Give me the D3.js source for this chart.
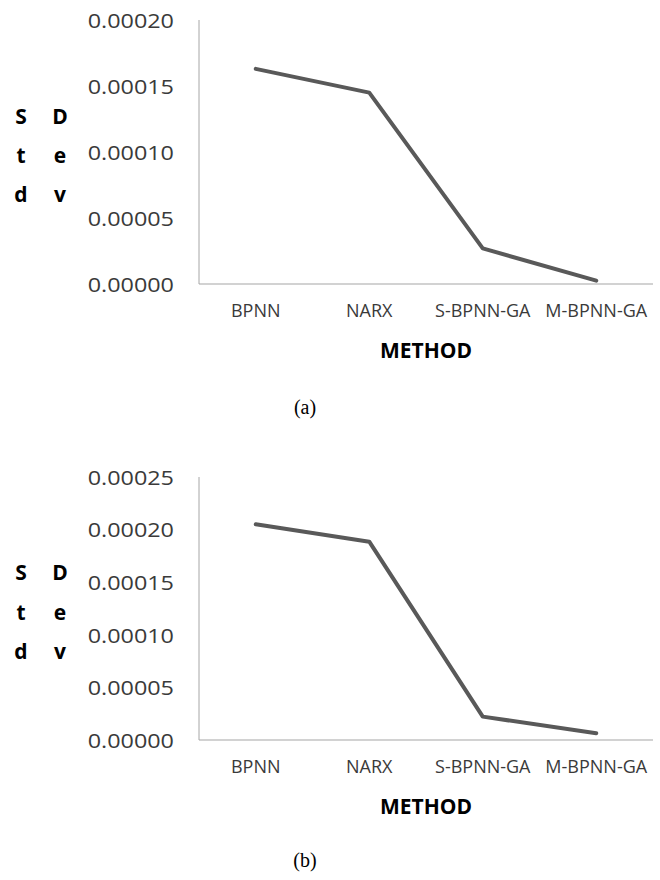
<!DOCTYPE html>
<html>
<head>
<meta charset="utf-8">
<script src="https://cdn.jsdelivr.net/npm/d3@7"></script>
<style>
  html, body { margin: 0; padding: 0; background: #ffffff; }
  svg { display: block; }
</style>
</head>
<body>
<svg id="chart" width="660" height="880"></svg>
<script>
// ---- Data ----
const categories = ["BPNN", "NARX", "S-BPNN-GA", "M-BPNN-GA"];
const valuesA = [0.000163, 0.000145, 0.000027, 0.0000025];
const valuesB = [0.000205, 0.0001885, 0.0000222, 0.0000064];
const ticksA = [0, 0.00005, 0.0001, 0.00015, 0.0002];
const ticksB = [0, 0.00005, 0.0001, 0.00015, 0.0002, 0.00025];
const yTitleCol1 = ["S", "t", "d"];
const yTitleCol2 = ["D", "e", "v"];
const xTitle = "METHOD";
const captions = ["(a)", "(b)"];

const svg = d3.select("#chart");

function drawPanel(opts) {
  const { values, ticks, top, bottom, caption, rowY } = opts;
  const left = 199, right = 653;
  const x = d3.scaleBand().domain(categories).range([left, right]);
  const y = d3.scaleLinear().domain([0, d3.max(ticks)]).range([bottom, top]);
  const g = svg.append("g");

  // y axis line
  g.append("line")
    .attr("x1", left).attr("x2", left)
    .attr("y1", top).attr("y2", bottom)
    .attr("stroke", "#a6a6a6").attr("stroke-width", 1);
  // x axis line
  g.append("line")
    .attr("x1", left).attr("x2", right)
    .attr("y1", bottom).attr("y2", bottom)
    .attr("stroke", "#a6a6a6").attr("stroke-width", 1.2);

  // y tick labels
  const yAxis = d3.axisLeft(y).tickValues(ticks).tickFormat(d3.format(".5f")).tickSize(0).tickPadding(0);
  const ya = g.append("g").attr("transform", `translate(${left - 25},0)`).call(yAxis);
  ya.select(".domain").remove();
  ya.selectAll("text")
    .attr("x", 0)
    .attr("dy", "0.36em")
    .attr("fill", "#3a3a3a")
    .style("font-family", "'Open Sans', sans-serif")
    .style("font-size", "20px")
    .attr("transform", "scale(1.17,1)");

  // x tick labels
  const xAxis = d3.axisBottom(x).tickSize(0).tickPadding(0);
  const xa = g.append("g").attr("transform", `translate(0,${bottom + 27})`).call(xAxis);
  xa.select(".domain").remove();
  xa.selectAll(".tick text")
    .attr("y", 0)
    .attr("dy", "0.36em")
    .attr("fill", "#3a3a3a")
    .attr("text-anchor", "middle")
    .style("font-family", "'Open Sans', sans-serif")
    .style("font-size", "18px");

  // line
  const line = d3.line()
    .x((d, i) => x(categories[i]) + x.bandwidth() / 2)
    .y(d => y(d));
  g.append("path")
    .datum(values)
    .attr("d", line)
    .attr("fill", "none")
    .attr("stroke", "#595959")
    .attr("stroke-width", 4)
    .attr("stroke-linecap", "round")
    .attr("stroke-linejoin", "round");

  // x title
  g.append("text")
    .attr("x", (left + right) / 2)
    .attr("y", bottom + 74)
    .attr("text-anchor", "middle")
    .attr("fill", "#000")
    .style("font-family", "'Open Sans', sans-serif")
    .style("font-weight", "bold")
    .style("font-size", "21px")
    .text(xTitle);

  // y title (wrapped "Std Dev")
  [[yTitleCol1, 21], [yTitleCol2, 60]].forEach(([col, cx]) => {
    col.forEach((c, i) => {
      g.append("text")
        .attr("x", cx).attr("y", rowY[i])
        .attr("text-anchor", "middle")
        .attr("fill", "#000")
        .style("font-family", "'Open Sans', sans-serif")
        .style("font-weight", "bold")
        .style("font-size", "21px")
        .text(c);
    });
  });

  // caption
  svg.append("text")
    .attr("x", 305)
    .attr("y", opts.captionY)
    .attr("text-anchor", "middle")
    .attr("fill", "#000")
    .style("font-family", "'Liberation Serif', 'Times New Roman', serif")
    .style("font-size", "20px")
    .text(caption);
}

drawPanel({ values: valuesA, ticks: ticksA, top: 20, bottom: 284, caption: captions[0], rowY: [124, 163, 202], captionY: 414 });
drawPanel({ values: valuesB, ticks: ticksB, top: 477, bottom: 740, caption: captions[1], rowY: [580, 620, 659], captionY: 867 });
</script>
</body>
</html>
